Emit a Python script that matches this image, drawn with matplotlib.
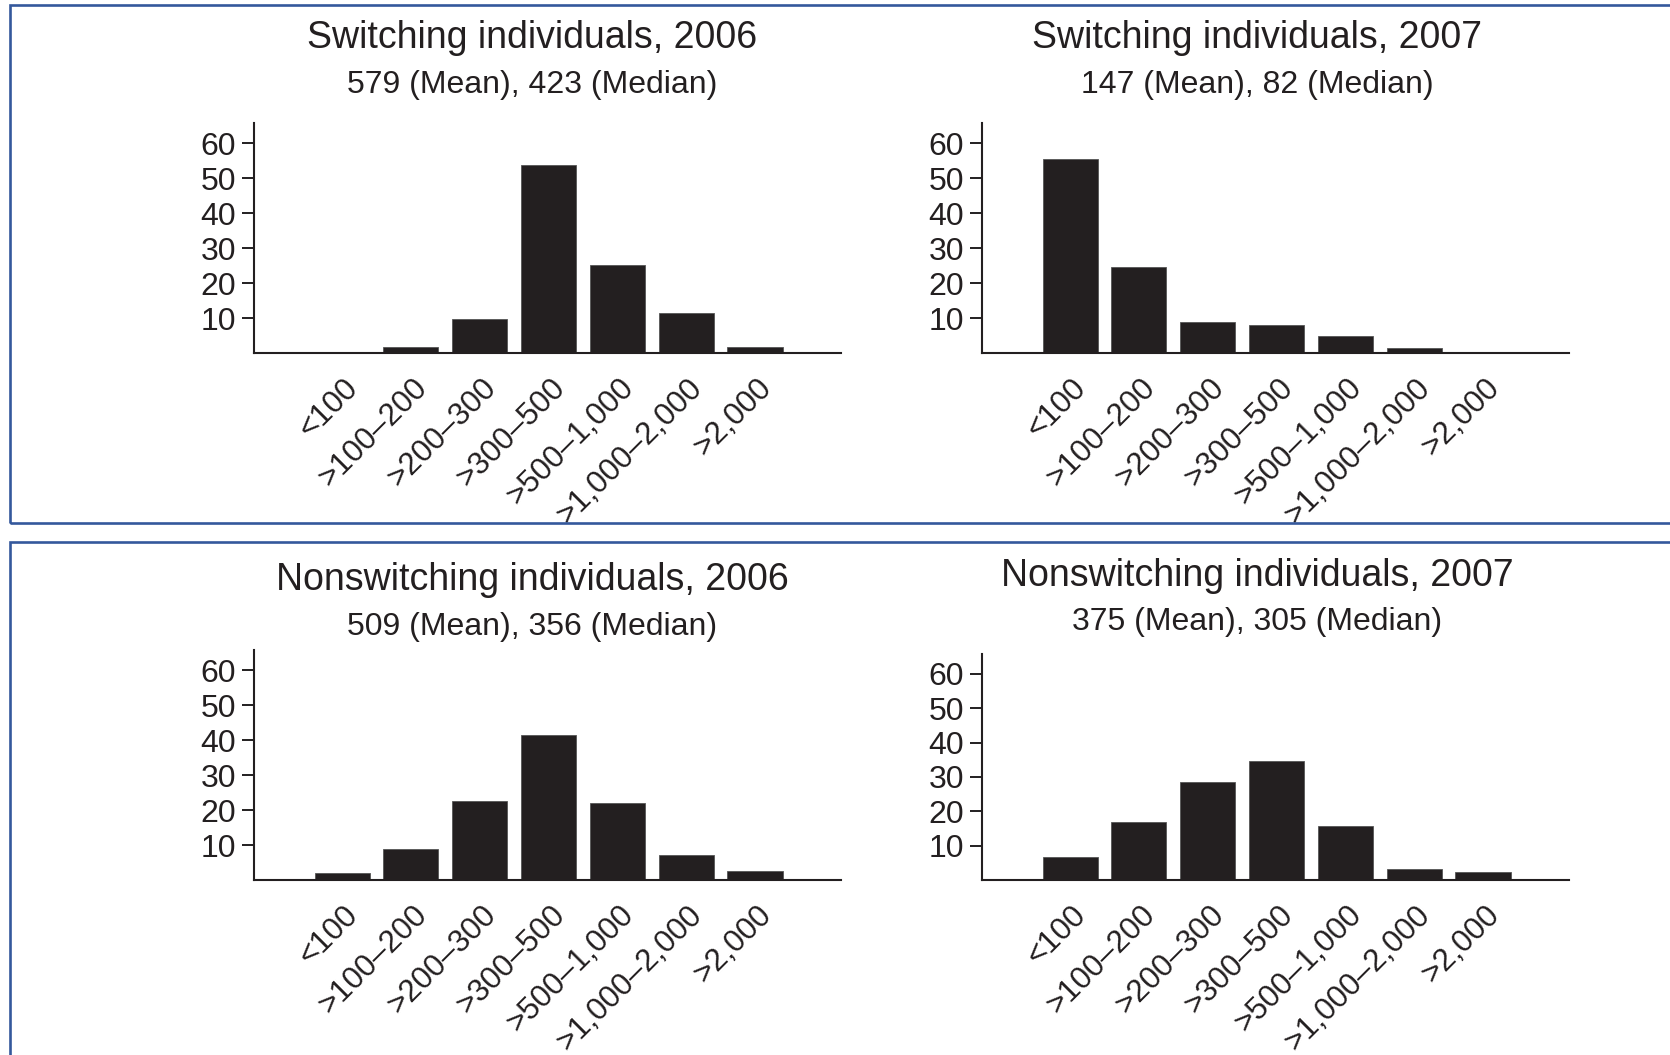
import numpy as np
import matplotlib
matplotlib.use('Agg')
import matplotlib.pyplot as plt
from matplotlib.patches import Rectangle
from matplotlib.transforms import ScaledTranslation

plt.rcParams['font.family'] = ['Liberation Sans', 'DejaVu Sans']

# share of individuals (%) per cost bracket
categories = ['<100', '>100–200', '>200–300', '>300–500',
              '>500–1,000', '>1,000–2,000', '>2,000']
switch_2006 = [0.0, 1.6, 9.6, 53.9, 25.1, 11.4, 1.6]
switch_2007 = [55.4, 24.5, 9.0, 7.9, 4.9, 1.4, 0.2]
nonswitch_2006 = [2.1, 8.9, 22.6, 41.5, 22.0, 7.2, 2.6]
nonswitch_2007 = [6.6, 17.0, 28.4, 34.7, 15.8, 3.3, 2.2]

titles = ['Switching individuals, 2006', 'Switching individuals, 2007',
          'Nonswitching individuals, 2006', 'Nonswitching individuals, 2007']
subtitles = ['579 (Mean), 423 (Median)', '147 (Mean), 82 (Median)',
             '509 (Mean), 356 (Median)', '375 (Mean), 305 (Median)']
yticks = [10, 20, 30, 40, 50, 60]

W, H = 1670, 1055
ink = '#231f20'
frame_blue = '#34589c'

fig = plt.figure(figsize=(W / 100, H / 100), dpi=100)

# two framed blocks (top: switching, bottom: nonswitching)
for y0, y1 in [(5, 523), (542, H + 20)]:
    fig.patches.append(Rectangle((10 / W, 1 - y1 / H), 1.05, (y1 - y0) / H,
                                 transform=fig.transFigure, fill=False,
                                 edgecolor=frame_blue, linewidth=1.9,
                                 zorder=0))

# axes boxes in pixels: left, top-of-spine, baseline
panels = [
    (switch_2006, 254, 123, 353, 532, 48, 93),
    (switch_2007, 982, 123, 353, 1257, 48, 93),
    (nonswitch_2006, 254, 650, 880, 532, 590, 635),
    (nonswitch_2007, 982, 654, 880, 1257, 586, 630),
]
ax_w = 587
x = np.arange(len(categories))

for (vals, left, top, base, tx, ty, sy), title, sub in zip(panels, titles, subtitles):
    ax = fig.add_axes([left / W, 1 - base / H, ax_w / W, (base - top) / H])
    ax.bar(x, vals, width=0.8, color=ink, edgecolor='#555555', linewidth=0.6)
    ax.set_xlim(-1.28, 7.25)
    ax.set_ylim(0, 65.8)

    for side in ['top', 'right']:
        ax.spines[side].set_visible(False)
    for side in ['left', 'bottom']:
        ax.spines[side].set_linewidth(1.5)
        ax.spines[side].set_color(ink)

    ax.set_yticks(yticks)
    ax.tick_params(axis='y', direction='out', length=9, width=1.4,
                   color=ink, labelsize=23, labelcolor=ink, pad=4)
    ax.set_xticks(x)
    ax.set_xticklabels(categories)
    ax.tick_params(axis='x', length=0, labelsize=22.5, labelcolor=ink, pad=22)
    shift = ScaledTranslation(0.12, 0, fig.dpi_scale_trans)
    for lab in ax.get_xticklabels():
        lab.set_rotation(45)
        lab.set_ha('right')
        lab.set_va('center')
        lab.set_rotation_mode('anchor')
        lab.set_transform(lab.get_transform() + shift)

    fig.text(tx / W, 1 - ty / H, title, ha='center', va='baseline',
             fontsize=27, color=ink)
    fig.text(tx / W, 1 - sy / H, sub, ha='center', va='baseline',
             fontsize=23, color=ink)

fig.savefig('out.png', dpi=100, facecolor='white')
